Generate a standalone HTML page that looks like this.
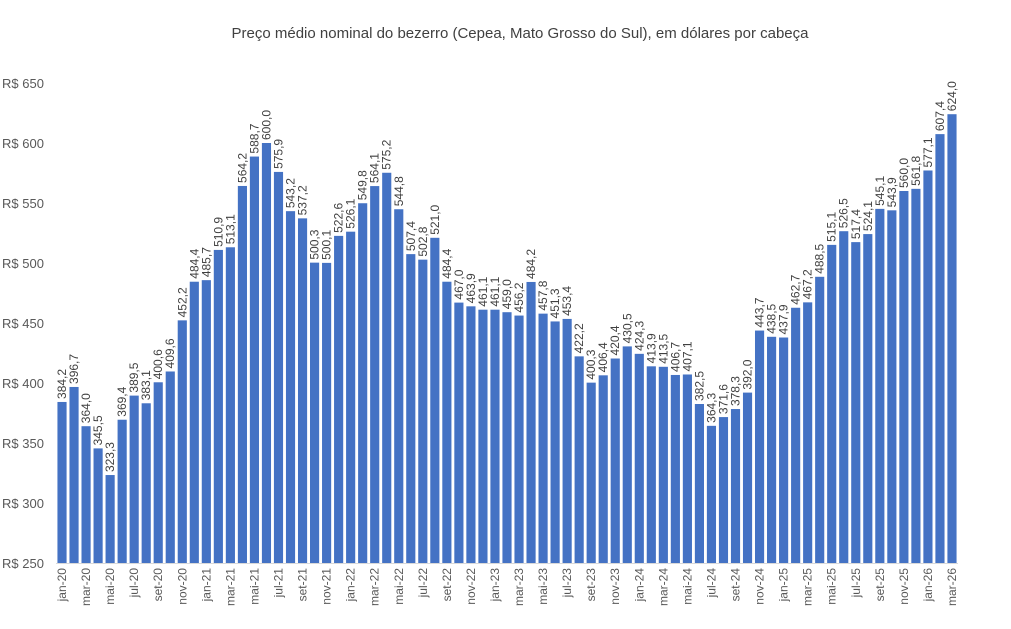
<!DOCTYPE html>
<html><head><meta charset="utf-8"><style>
body{margin:0;background:#fff;}
svg{display:block;font-family:"Liberation Sans",sans-serif;}
</style></head><body>
<svg id="chart" width="1011" height="629">
<text x="520" y="38" text-anchor="middle" font-size="15" fill="#404040">Preço médio nominal do bezerro (Cepea, Mato Grosso do Sul), em dólares por cabeça</text>
<g id="yaxis"></g>
<g id="bars"></g>
<g id="xaxis"></g>
</svg>
<script>
const values=[384.2,396.7,364.0,345.5,323.3,369.4,389.5,383.1,400.6,409.6,452.2,484.4,485.7,510.9,513.1,564.2,588.7,600.0,575.9,543.2,537.2,500.3,500.1,522.6,526.1,549.8,564.1,575.2,544.8,507.4,502.8,521.0,484.4,467.0,463.9,461.1,461.1,459.0,456.2,484.2,457.8,451.3,453.4,422.2,400.3,406.4,420.4,430.5,424.3,413.9,413.5,406.7,407.1,382.5,364.3,371.6,378.3,392.0,443.7,438.5,437.9,462.7,467.2,488.5,515.1,526.5,517.4,524.1,545.1,543.9,560.0,561.8,577.1,607.4,624.0];
const months=["jan","fev","mar","abr","mai","jun","jul","ago","set","out","nov","dez"];
const yTicks=[250,300,350,400,450,500,550,600,650];
const startYear=20;
const NS="http://www.w3.org/2000/svg";
const x0=56,x1=958,yBase=563,yTop=83,yMin=250,yMax=650;
const n=values.length,pitch=(x1-x0)/n,bw=pitch*0.76;
const y=v=>yBase-(v-yMin)/(yMax-yMin)*(yBase-yTop);
const xc=i=>x0+pitch*(i+0.5);
function el(t,a,p){const e=document.createElementNS(NS,t);for(const k in a)e.setAttribute(k,a[k]);p.appendChild(e);return e;}
const ya=document.getElementById('yaxis'),bg=document.getElementById('bars'),xa=document.getElementById('xaxis');
yTicks.forEach(t=>{const e=el('text',{x:2,y:y(t)+5,'font-size':13,fill:'#595959'},ya);e.textContent='R$ '+t;

});
const ax=el('line',{x1:x0,x2:x1,y1:yBase+0.5,y2:yBase+0.5,stroke:'#d9d9d9'},xa);


values.forEach((v,i)=>{
 const r=el('rect',{x:xc(i)-bw/2,y:y(v),width:bw,height:yBase-y(v),fill:'#4472C4'},bg);
 
 
 const tx=xc(i)+4,ty=y(v)-3;
 const t=el('text',{x:tx,y:ty,'font-size':12,fill:'#404040',transform:`rotate(-90 ${tx} ${ty})`},bg);
 t.textContent=v.toFixed(1).replace('.',',');
 
 
 if(i%2===0){
  const lx=xc(i)+4,ly=yBase+5;
  const l=el('text',{x:lx,y:ly,'font-size':12,fill:'#595959','text-anchor':'end',transform:`rotate(-90 ${lx} ${ly})`},xa);
  l.textContent=months[i%12]+'-'+(startYear+Math.floor(i/12));
  
  
 }
});
</script>
</body></html>
